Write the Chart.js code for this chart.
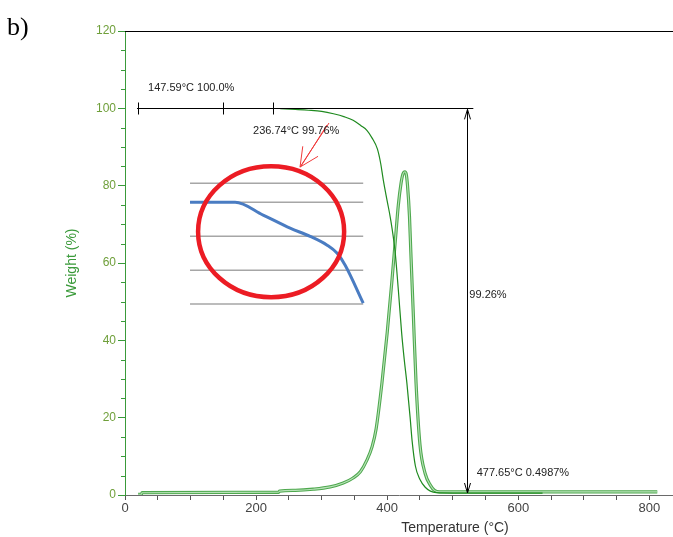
<!DOCTYPE html>
<html><head><meta charset="utf-8">
<script src="https://cdn.jsdelivr.net/npm/chart.js@4/dist/chart.umd.min.js"></script>
<style>html,body{margin:0;padding:0;background:#fff;}canvas{display:block;}</style>
</head><body>
<canvas id="c" width="673" height="537"></canvas>
<script>
// ---- text ----
const panelLabel = 'b)';
const xTitle = 'Temperature (°C)';
const yTitle = 'Weight (%)';
// ---- ticks ----
const xMajorTicks = [0, 200, 400, 600, 800];
const yMajorTicks = [0, 20, 40, 60, 80, 100, 120];
// ---- TGA (weight %) ----
const tgaTemp   = [236.7, 260, 280, 300, 318, 335, 348, 360, 369, 377, 385, 390, 394, 400, 405, 412, 417, 422, 426, 430, 435, 438, 443, 450, 458, 466, 475, 500, 560, 637];
const tgaWeight = [99.9, 99.7, 99.5, 99.2, 98.6, 97.8, 96.9, 95.5, 94.3, 92.3, 89.5, 85.8, 81.5, 76, 71.5, 63, 53, 42, 35, 29, 20, 14, 7.5, 4, 2, 1, 0.6, 0.5, 0.5, 0.5];
// ---- DTG (derivative, plotted on same axis) ----
const dtgTemp  = [20, 25, 26, 234, 236, 260, 287, 313, 333, 348, 359, 369, 377, 383, 392, 400, 407, 412, 417, 421, 424, 427, 429, 431, 434, 436, 440, 444, 450, 458, 466, 472, 480, 600, 812];
const dtgValue = [0.2, 0.2, 0.6, 0.7, 1.0, 1.2, 1.5, 2.1, 3.1, 4.4, 6, 9, 12.5, 17, 29, 42, 55, 65, 75, 80.5, 83, 83.6, 83, 80, 72, 63, 46, 29, 13, 5.5, 2.5, 1.2, 0.8, 0.8, 0.8];
// ---- inset (zoomed view) ----
const insetTemp  = [99.2, 168, 210.7, 251.9, 282.4, 308.4, 323.7, 335.9, 363.4];
const insetValue = [75.7, 75.7, 72.4, 69.0, 66.9, 64.6, 62.5, 59.4, 49.6];
const insetGridLevels = [80.6, 75.7, 66.9, 58.1, 49.4];
const insetGridRange = [99.2, 363.4];
// ---- step measurement marks ----
const markerLevel = 100;
const markerRange = [18.3, 531.4];
const markerTicks = [20.3, 149, 225.3];
const stepTemp = 521;
const stepRange = [100, 0];
const annotationTexts = ['147.59°C 100.0%', '236.74°C 99.76%', '99.26%', '477.65°C 0.4987%'];
const annotationTemp  = [35.1, 195.3, 525.3, 536.5];
const annotationValue = [105.3, 94.1, 51.7, 5.7];
const redArrowFrom = [311.2, 96.2];
const redArrowTo   = [267, 84.8];
const redCircleCenter = [222.9, 68.1];
const redCircleRadius = [111.4, 16.94];

const pts = (xs, ys) => xs.map((v, i) => ({x: v, y: ys[i]}));
const datasets = [
  {label: 'TGA', data: pts(tgaTemp, tgaWeight), borderColor: '#1f8a1f', borderWidth: 1.2, cubicInterpolationMode: 'monotone'},
  {label: 'DTG', data: pts(dtgTemp, dtgValue), borderColor: '#b8e2b8', borderWidth: 1.1, cubicInterpolationMode: 'monotone'},
  {label: 'DTG edge', data: pts(dtgTemp, dtgValue), borderColor: '#4ea84e', borderWidth: 3.2, cubicInterpolationMode: 'monotone'},
  {label: 'Inset', data: pts(insetTemp, insetValue), borderColor: '#4a7cc2', borderWidth: 3, cubicInterpolationMode: 'monotone'},
  ...insetGridLevels.map((lv, i) => ({label: 'inset grid ' + i, data: pts(insetGridRange, [lv, lv]), borderColor: '#a6a6a6', borderWidth: 1.5}))
];
datasets.forEach(d => { d.pointRadius = 0; d.fill = false; d.borderJoinStyle = 'round'; });

const FONT = "'Liberation Sans', Arial, sans-serif";

const decor = {
  id: 'decor',
  afterDraw(chart) {
    const {ctx, chartArea: a, scales: {x, y}} = chart;
    const px = v => x.getPixelForValue(v), py = v => y.getPixelForValue(v);
    const line = (x1, y1, x2, y2) => { ctx.beginPath(); ctx.moveTo(x1, y1); ctx.lineTo(x2, y2); ctx.stroke(); };
    ctx.save();
    // top frame line
    ctx.strokeStyle = '#000'; ctx.lineWidth = 1;
    line(a.left, Math.round(a.top) + 0.5, a.right, Math.round(a.top) + 0.5);
    // y minor ticks
    ctx.strokeStyle = '#3a9a3a';
    for (let v = 5; v < 120; v += 5) {
      if (yMajorTicks.includes(v)) continue;
      const yy = Math.round(py(v)) + 0.5;
      line(a.left - 4, yy, a.left, yy);
    }
    // red circle
    ctx.strokeStyle = '#ec1c24'; ctx.lineWidth = 4.5;
    const cx = px(redCircleCenter[0]), cy = py(redCircleCenter[1]);
    const rx = px(redCircleCenter[0] + redCircleRadius[0]) - cx;
    const ry = cy - py(redCircleCenter[1] + redCircleRadius[1]);
    ctx.beginPath(); ctx.ellipse(cx, cy, rx, ry, 0, 0, Math.PI * 2); ctx.stroke();
    // red arrow
    ctx.strokeStyle = '#f03a3a'; ctx.lineWidth = 1;
    const ax1 = px(redArrowFrom[0]), ay1 = py(redArrowFrom[1]);
    const ax2 = px(redArrowTo[0]), ay2 = py(redArrowTo[1]);
    line(ax1, ay1, ax2, ay2);
    line(ax1 - 2, ay1 + 2, ax2 + 1, ay2 - 1);
    const ang = Math.atan2(ay2 - ay1, ax2 - ax1);
    const hl = 21;
    line(ax2, ay2, ax2 - hl * Math.cos(ang - 0.45), ay2 - hl * Math.sin(ang - 0.45));
    line(ax2, ay2, ax2 - hl * Math.cos(ang + 0.45), ay2 - hl * Math.sin(ang + 0.45));
    // step marker lines
    ctx.strokeStyle = '#000'; ctx.lineWidth = 1;
    const my = Math.round(py(markerLevel)) + 0.5;
    line(px(markerRange[0]), my, px(markerRange[1]), my);
    markerTicks.forEach(t => { const tx = Math.round(px(t)) + 0.5; line(tx, my - 6, tx, my + 6); });
    const sx = Math.round(px(stepTemp)) + 0.5;
    const sTop = py(stepRange[0]) + 1, sBot = py(stepRange[1]) - 2;
    line(sx, sTop, sx, sBot);
    line(sx, sTop, sx - 3, sTop + 10); line(sx, sTop, sx + 3, sTop + 10);
    line(sx, sBot, sx - 3, sBot - 10); line(sx, sBot, sx + 3, sBot - 10);
    // annotation texts
    ctx.fillStyle = '#222'; ctx.font = '11px ' + FONT; ctx.textBaseline = 'middle'; ctx.textAlign = 'left';
    annotationTexts.forEach((t, i) => ctx.fillText(t, px(annotationTemp[i]), py(annotationValue[i])));
    // x title
    ctx.fillStyle = '#333'; ctx.font = '14px ' + FONT; ctx.textAlign = 'center'; ctx.textBaseline = 'middle';
    ctx.fillText(xTitle, 455, 528);
    // panel label
    ctx.fillStyle = '#000'; ctx.font = "26px 'Liberation Serif', 'Times New Roman', serif"; ctx.textAlign = 'left'; ctx.textBaseline = 'alphabetic';
    ctx.fillText(panelLabel, 7, 35);
    ctx.restore();
  }
};

new Chart(document.getElementById('c'), {
  type: 'line',
  data: {datasets},
  options: {
    responsive: false, animation: false,
    layout: {padding: {top: 31, right: 0, bottom: 0, left: 0}},
    plugins: {legend: {display: false}, tooltip: {enabled: false}},
    scales: {
      x: {
        type: 'linear', min: 0, max: 836,
        afterFit: s => { s.height = 42; },
        border: {color: '#6a6a6a', width: 1},
        grid: {drawOnChartArea: false, drawTicks: true, tickLength: 5, color: '#555'},
        ticks: {stepSize: 50, autoSkip: false, includeBounds: false, maxRotation: 0, padding: 1,
          color: '#444', font: {family: FONT, size: 13},
          callback: v => xMajorTicks.includes(v) ? String(v) : ''},
        title: {display: false, text: xTitle}
      },
      y: {
        type: 'linear', min: 0, max: 120,
        afterFit: s => { s.width = 125; },
        border: {color: '#3a9a3a', width: 1},
        grid: {drawOnChartArea: false, drawTicks: true, tickLength: 7, color: '#3a9a3a'},
        ticks: {stepSize: 20, padding: 2, color: '#6f9f3a', font: {family: FONT, size: 12}},
        title: {display: true, text: yTitle, color: '#3a9a3a', font: {family: FONT, size: 14}, padding: {top: 64, bottom: 0}}
      }
    }
  },
  plugins: [decor]
});
</script>
</body></html>
